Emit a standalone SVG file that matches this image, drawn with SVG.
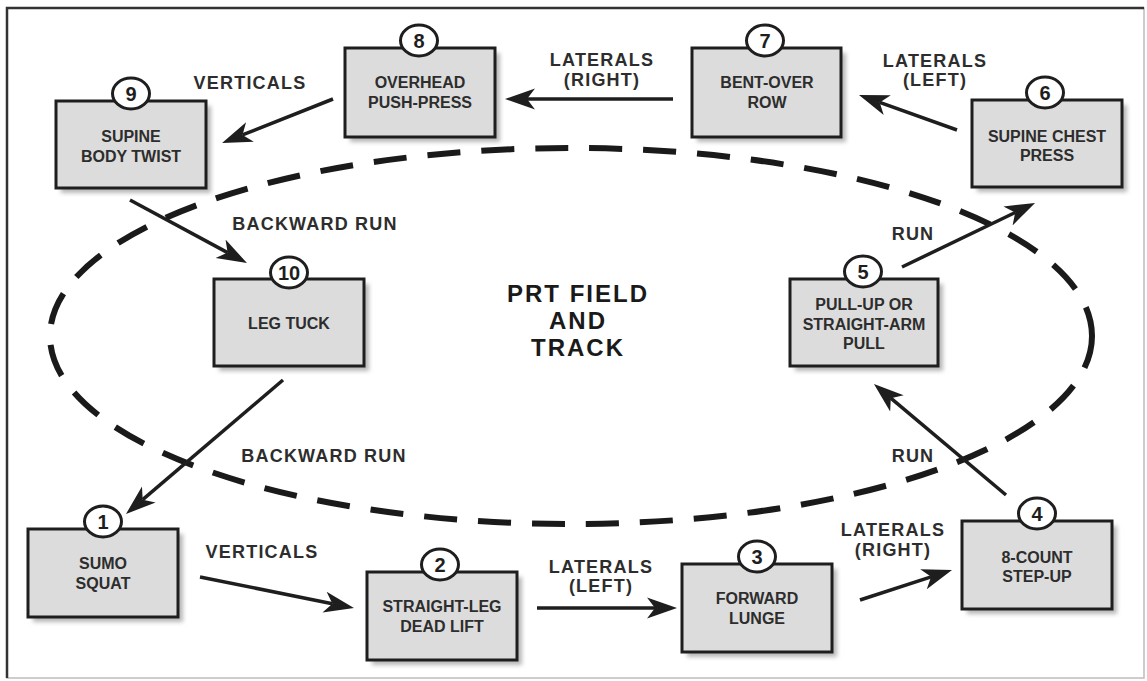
<svg xmlns="http://www.w3.org/2000/svg" width="1147" height="681" viewBox="0 0 1147 681">
<defs>
<filter id="blur" x="-10%" y="-10%" width="120%" height="120%"><feGaussianBlur stdDeviation="2"/></filter>
<marker id="ah" markerUnits="userSpaceOnUse" markerWidth="34" markerHeight="24" viewBox="0 -12 34 24" refX="8" refY="0" orient="auto">
<path d="M0,-10.5 L30,0 L0,10.5 L8,0 Z" fill="#1e1e1e"/>
</marker>
<style>
.sh{fill:#b8b8b8;filter:url(#blur)}
.box{fill:#dcdcdc;stroke:#1e1e1e;stroke-width:3}
.nc{fill:#fff;stroke:#1e1e1e;stroke-width:3}
.t{font-family:"Liberation Sans",Arial,sans-serif;font-weight:bold;font-size:16px;fill:#2d2d2d;text-anchor:middle}
.n{font-family:"Liberation Sans",Arial,sans-serif;font-weight:bold;font-size:20px;fill:#1e1e1e;text-anchor:middle}
.lbl{font-family:"Liberation Sans",Arial,sans-serif;font-weight:bold;font-size:18px;letter-spacing:1.2px;fill:#2d2d2d;text-anchor:middle}
.title{font-family:"Liberation Sans",Arial,sans-serif;font-weight:bold;font-size:24px;letter-spacing:2px;fill:#1a1a1a;text-anchor:middle}
.ar{stroke:#1e1e1e;stroke-width:3.5;fill:none;marker-end:url(#ah)}
.track{fill:none;stroke:#1a1a1a;stroke-width:6;stroke-dasharray:33 21}
</style>
</defs>
<rect width="1147" height="681" fill="#fff"/>
<rect x="7" y="8" width="1137" height="670" fill="none" stroke="#bdbdbd" stroke-width="1.5"/>
<path d="M7,678 L7,8 L1144,8" fill="none" stroke="#333" stroke-width="2.5"/>

<g id="track">
<ellipse class="track" cx="571" cy="336" rx="521" ry="188"/>
<text class="title" x="578" y="302">PRT FIELD</text>
<text class="title" x="578" y="329">AND</text>
<text class="title" x="578" y="356">TRACK</text>
</g>

<g id="connectors">
<line class="ar" x1="333" y1="99" x2="242.5" y2="134.9"/>
<line class="ar" x1="673" y1="99" x2="527" y2="99"/>
<line class="ar" x1="957" y1="130" x2="879.7" y2="102.4"/>
<line class="ar" x1="130" y1="200" x2="227.6" y2="252.6"/>
<line class="ar" x1="283" y1="380" x2="142.7" y2="499.7"/>
<line class="ar" x1="200" y1="577" x2="332.4" y2="603.7"/>
<line class="ar" x1="537" y1="608" x2="655" y2="608"/>
<line class="ar" x1="860" y1="600" x2="931.1" y2="576.8"/>
<line class="ar" x1="1006" y1="495" x2="890.8" y2="398.2"/>
<line class="ar" x1="902" y1="267" x2="1015.2" y2="212.5"/>
<text class="lbl" x="250" y="89">VERTICALS</text>
<text class="lbl" x="602" y="66">LATERALS</text>
<text class="lbl" x="602" y="86">(RIGHT)</text>
<text class="lbl" x="935" y="67">LATERALS</text>
<text class="lbl" x="935" y="86">(LEFT)</text>
<text class="lbl" x="315" y="230">BACKWARD RUN</text>
<text class="lbl" x="324" y="462">BACKWARD RUN</text>
<text class="lbl" x="262" y="558">VERTICALS</text>
<text class="lbl" x="601" y="573">LATERALS</text>
<text class="lbl" x="601" y="592">(LEFT)</text>
<text class="lbl" x="893" y="536">LATERALS</text>
<text class="lbl" x="893" y="556">(RIGHT)</text>
<text class="lbl" x="913" y="462">RUN</text>
<text class="lbl" x="913" y="240">RUN</text>
</g>

<g id="node1">
<rect class="sh" x="33" y="534" width="150" height="88"/>
<rect class="box" x="28" y="529" width="150" height="88"/>
<ellipse class="nc" cx="103" cy="521.5" rx="18.5" ry="15.5"/>
<text class="n" x="103" y="528.5">1</text>
<text class="t" x="103" y="569">SUMO</text>
<text class="t" x="103" y="589">SQUAT</text>
</g>
<g id="node2">
<rect class="sh" x="372" y="577" width="150" height="88"/>
<rect class="box" x="367" y="572" width="150" height="88"/>
<ellipse class="nc" cx="440" cy="564.5" rx="18.5" ry="15.5"/>
<text class="n" x="440" y="571.5">2</text>
<text class="t" x="442" y="612">STRAIGHT-LEG</text>
<text class="t" x="442" y="632">DEAD LIFT</text>
</g>
<g id="node3">
<rect class="sh" x="687" y="569" width="150" height="88"/>
<rect class="box" x="682" y="564" width="150" height="88"/>
<ellipse class="nc" cx="757" cy="556.5" rx="18.5" ry="15.5"/>
<text class="n" x="757" y="563.5">3</text>
<text class="t" x="757" y="604">FORWARD</text>
<text class="t" x="757" y="624">LUNGE</text>
</g>
<g id="node4">
<rect class="sh" x="967" y="526" width="150" height="88"/>
<rect class="box" x="962" y="521" width="150" height="88"/>
<ellipse class="nc" cx="1037" cy="513.5" rx="18.5" ry="15.5"/>
<text class="n" x="1037" y="520.5">4</text>
<text class="t" x="1037" y="563">8-COUNT</text>
<text class="t" x="1037" y="582">STEP-UP</text>
</g>
<g id="node5">
<rect class="sh" x="795" y="284" width="148" height="87"/>
<rect class="box" x="790" y="279" width="148" height="87"/>
<ellipse class="nc" cx="863" cy="271.5" rx="18.5" ry="15.5"/>
<text class="n" x="863" y="278.5">5</text>
<text class="t" x="864" y="310">PULL-UP OR</text>
<text class="t" x="864" y="330">STRAIGHT-ARM</text>
<text class="t" x="864" y="349">PULL</text>
</g>
<g id="node6">
<rect class="sh" x="977" y="105" width="150" height="87"/>
<rect class="box" x="972" y="100" width="150" height="87"/>
<ellipse class="nc" cx="1045" cy="92.5" rx="18.5" ry="15.5"/>
<text class="n" x="1045" y="99.5">6</text>
<text class="t" x="1047" y="142">SUPINE CHEST</text>
<text class="t" x="1047" y="161">PRESS</text>
</g>
<g id="node7">
<rect class="sh" x="697" y="53" width="149" height="89"/>
<rect class="box" x="692" y="48" width="149" height="89"/>
<ellipse class="nc" cx="765" cy="40.5" rx="18.5" ry="15.5"/>
<text class="n" x="765" y="47.5">7</text>
<text class="t" x="767" y="88">BENT-OVER</text>
<text class="t" x="767" y="108">ROW</text>
</g>
<g id="node8">
<rect class="sh" x="350" y="53" width="150" height="89"/>
<rect class="box" x="345" y="48" width="150" height="89"/>
<ellipse class="nc" cx="419" cy="40.5" rx="18.5" ry="15.5"/>
<text class="n" x="419" y="47.5">8</text>
<text class="t" x="420" y="88">OVERHEAD</text>
<text class="t" x="420" y="108">PUSH-PRESS</text>
</g>
<g id="node9">
<rect class="sh" x="61" y="106" width="150" height="87"/>
<rect class="box" x="56" y="101" width="150" height="87"/>
<ellipse class="nc" cx="131" cy="93.5" rx="18.5" ry="15.5"/>
<text class="n" x="131" y="100.5">9</text>
<text class="t" x="131" y="142">SUPINE</text>
<text class="t" x="131" y="162">BODY TWIST</text>
</g>
<g id="node10">
<rect class="sh" x="219" y="284" width="150" height="87"/>
<rect class="box" x="214" y="279" width="150" height="87"/>
<ellipse class="nc" cx="289" cy="272.5" rx="18.5" ry="15.5"/>
<text class="n" x="289" y="279.5">10</text>
<text class="t" x="289" y="329">LEG TUCK</text>
</g>
</svg>
